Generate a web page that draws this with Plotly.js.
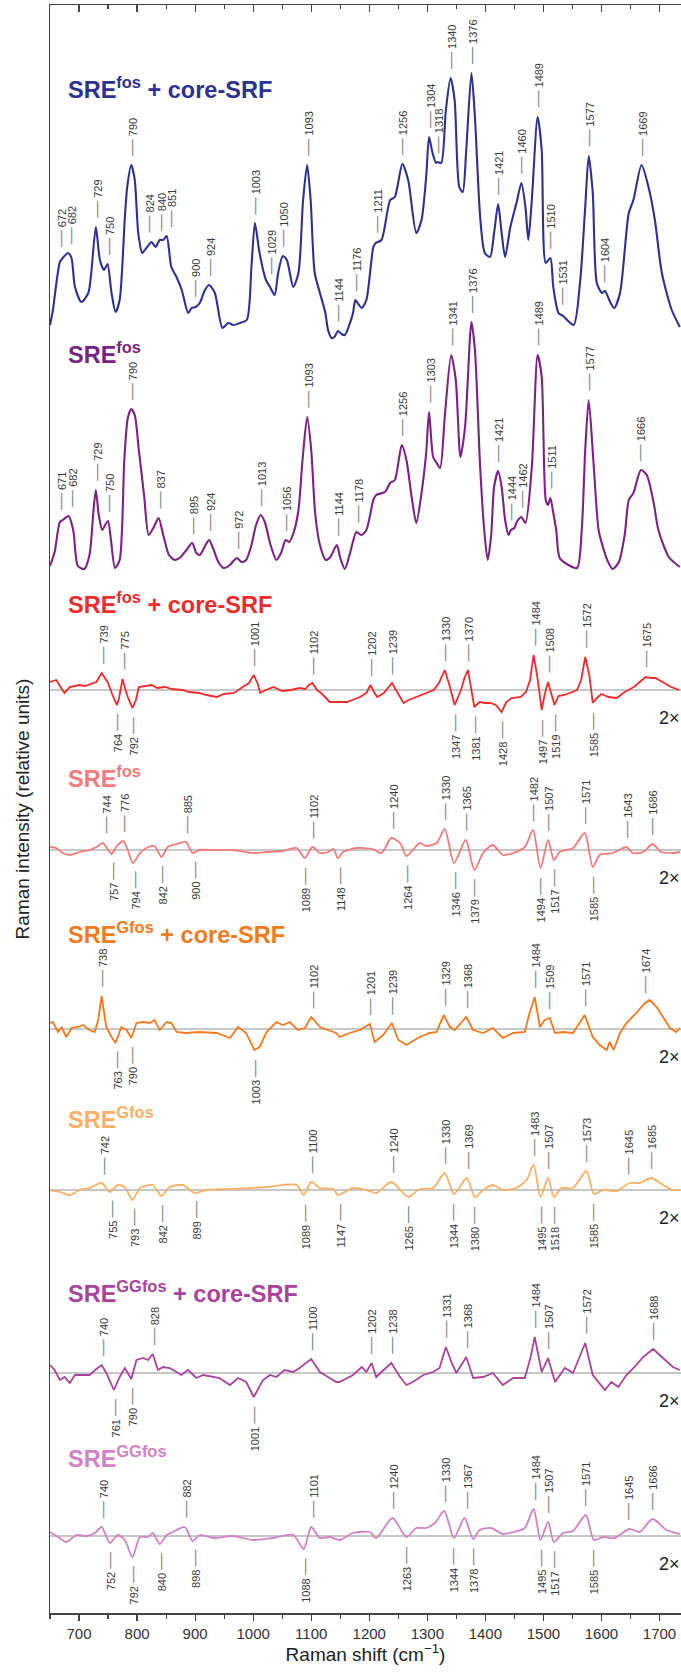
<!DOCTYPE html>
<html><head><meta charset="utf-8">
<script src="https://cdn.plot.ly/plotly-3.0.1.min.js"></script>
<style>html,body{margin:0;padding:0;background:#fff;overflow:hidden}#chart{width:681px;height:1676px}</style>
</head><body><div id="chart"></div>
<script>
// ---------- series data (Raman shift in cm-1, intensity in relative units) ----------
const navyShift = [650,655,667,672,681,687,693,704,716,721,729,736,743,749,756,763,770,779,783,790,796,802,809,816,825,832,839,845,851,859,868,877,888,894,901,908,917,924,934,947,957,966,977,989,997,1003,1011,1022,1029,1037,1043,1051,1058,1069,1078,1086,1093,1099,1106,1115,1124,1129,1135,1140,1146,1152,1158,1165,1172,1176,1181,1187,1195,1207,1211,1221,1236,1244,1257,1267,1281,1290,1298,1303,1309,1315,1318,1324,1332,1340,1347,1355,1361,1367,1376,1382,1391,1399,1408,1415,1422,1428,1434,1443,1454,1462,1469,1474,1480,1490,1497,1504,1512,1517,1526,1534,1552,1563,1572,1578,1585,1592,1601,1606,1615,1622,1632,1647,1655,1669,1681,1692,1704,1721,1735];
const navyIntensity = [15,30,78,82,87,82,53,38,47,67,113,80,70,76,47,28,40,123,153,175,160,107,87,92,98,93,100,100,104,73,63,50,27,32,33,37,50,55,47,12,17,15,17,20,73,117,87,60,53,45,67,84,80,53,67,140,175,140,67,47,28,10,2,3,9,6,5,14,27,40,36,32,40,93,97,100,140,143,176,160,107,120,163,203,187,177,178,177,230,262,240,153,148,190,267,223,123,87,83,107,136,107,83,113,138,157,133,100,140,223,190,77,82,53,27,24,15,57,133,184,147,57,47,49,38,32,47,127,140,175,153,120,67,30,13];

const purpleShift = [650,658,667,672,682,690,698,709,718,725,729,734,740,745,750,755,762,770,778,784,790,796,803,812,820,828,837,845,855,865,875,885,895,902,908,918,924,932,940,949,960,966,972,980,988,997,1005,1013,1020,1030,1040,1048,1056,1062,1070,1078,1085,1093,1100,1107,1115,1125,1133,1144,1150,1158,1166,1178,1186,1195,1207,1212,1227,1236,1244,1256,1264,1273,1281,1290,1298,1303,1310,1316,1322,1330,1341,1349,1357,1365,1376,1382,1391,1398,1404,1410,1415,1422,1428,1434,1440,1444,1450,1454,1462,1469,1480,1490,1497,1504,1508,1512,1517,1522,1528,1543,1558,1566,1572,1578,1586,1595,1603,1610,1619,1630,1640,1647,1655,1668,1678,1690,1698,1716,1735];
const purpleIntensity = [6,20,50,52,56,42,6,3,17,62,82,57,42,47,51,32,4,12,112,154,163,157,122,77,37,44,54,37,17,12,15,22,29,19,17,27,32,22,10,4,7,11,14,10,12,27,47,57,50,27,12,19,32,30,40,62,112,155,122,57,27,12,15,27,14,3,17,40,37,42,72,77,80,89,92,127,112,75,49,79,119,160,115,109,104,155,217,192,115,145,250,222,105,42,12,37,85,101,85,52,37,42,44,50,55,49,105,217,195,72,67,74,59,42,14,7,4,42,122,172,112,42,24,12,3,10,37,72,79,102,97,69,42,15,5];

const redShift = [650,661,667,675,684,693,701,710,720,730,739,745,750,757,762,765,769,775,780,784,792,798,803,812,825,835,848,860,878,890,907,920,937,950,967,982,993,1001,1008,1012,1022,1035,1050,1065,1080,1090,1096,1102,1110,1117,1125,1132,1145,1162,1175,1184,1195,1202,1208,1214,1225,1232,1239,1246,1259,1268,1281,1295,1311,1320,1330,1338,1347,1358,1364,1370,1376,1381,1390,1400,1409,1418,1428,1436,1445,1461,1470,1477,1483,1489,1497,1502,1508,1514,1519,1526,1536,1550,1558,1565,1572,1579,1585,1592,1600,1612,1626,1640,1656,1666,1676,1686,1693,1708,1720,1734];
const redIntensity = [8,10,4,-3,3,4,5,4,6,8,17,12,7,-4,-10,-15,-8,11,0,-7,-18,-10,3,4,5,2,3,1,0,-2,-3,-5,-7,-4,-3,3,7,15,6,-3,0,3,-1,0,2,1,5,7,0,-3,-8,-12,-12,-12,-9,-7,-3,5,-2,-7,-3,2,7,0,-13,-10,-7,-4,0,7,20,5,-15,0,12,20,0,-17,-12,-13,-13,-15,-22,-12,-8,-7,-2,10,35,15,-20,-5,8,-5,-15,-6,-5,-2,0,10,33,15,-13,-8,-4,-7,-8,-2,3,8,13,12,12,7,3,0];

const salmonShift = [650,661,672,684,701,718,730,741,756,764,776,784,793,805,816,830,842,853,868,884,896,907,937,965,999,1023,1051,1075,1089,1102,1115,1129,1138,1146,1155,1178,1206,1221,1238,1253,1264,1275,1287,1298,1316,1330,1346,1366,1381,1396,1413,1430,1448,1468,1482,1495,1508,1518,1528,1551,1571,1585,1597,1620,1643,1654,1672,1688,1703,1723,1735];
const salmonIntensity = [3,2,-3,-5,-2,0,3,7,-4,3,9,0,-13,-3,2,4,-7,3,6,8,-3,0,0,0,-3,-2,-1,2,-8,3,-3,-2,1,-8,-2,2,1,-3,12,7,-6,0,7,4,7,21,-13,10,-20,-3,5,-5,-3,3,20,-18,10,-10,-2,2,17,-17,-5,-3,3,-3,-2,6,-2,-3,-2];

const orangeShift = [650,655,664,670,678,687,698,707,718,727,733,739,745,747,756,763,773,782,790,799,810,822,830,839,851,859,868,884,907,937,960,974,988,1002,1011,1023,1040,1051,1063,1077,1089,1100,1115,1129,1143,1149,1166,1184,1201,1209,1224,1239,1250,1264,1287,1304,1316,1328,1339,1347,1367,1379,1396,1413,1430,1448,1468,1476,1485,1494,1502,1511,1520,1534,1551,1571,1585,1597,1609,1614,1621,1632,1643,1660,1675,1683,1695,1706,1718,1729,1735];
const orangeIntensity = [6,7,-3,2,-8,1,2,4,-1,-3,9,33,9,2,-8,-14,2,-1,-9,6,7,6,9,-1,7,6,-3,-4,-3,-4,-9,2,-4,-21,-18,-3,7,4,7,-1,1,12,2,-1,-4,-8,-4,-1,5,-13,-6,6,-11,-16,-8,-4,-3,14,2,-1,12,-1,-4,1,-9,-4,-3,16,32,2,9,11,-4,-3,-4,14,-8,-16,-21,-13,-21,-4,6,16,26,29,22,12,1,-3,1];

const lightOrangeShift = [650,667,684,701,718,739,753,767,779,792,805,827,842,856,879,899,919,965,1023,1075,1087,1100,1115,1138,1146,1172,1195,1212,1238,1267,1287,1310,1330,1346,1368,1382,1396,1413,1430,1453,1471,1483,1495,1508,1518,1531,1551,1574,1587,1603,1626,1649,1666,1686,1706,1723,1735];
const lightOrangeIntensity = [0,-2,-5,0,2,7,-2,5,3,-10,2,5,-6,3,5,-3,0,1,3,5,-5,8,2,1,-5,2,0,-3,8,-7,1,2,17,-4,12,-7,0,5,0,2,10,25,-7,12,-7,2,2,19,-4,0,-1,7,7,12,5,0,0];

const magentaShift = [650,658,667,675,684,693,707,718,730,739,747,760,770,779,790,799,810,819,827,836,845,856,868,876,888,902,914,931,942,960,974,988,1001,1017,1029,1040,1054,1069,1080,1100,1115,1129,1143,1149,1172,1187,1195,1204,1212,1221,1238,1253,1264,1275,1293,1310,1321,1332,1342,1350,1367,1379,1396,1413,1430,1448,1468,1478,1485,1497,1508,1520,1537,1551,1572,1585,1606,1617,1629,1643,1657,1672,1689,1706,1723,1735];
const magentaIntensity = [8,3,-7,-4,-10,-2,-2,-2,4,8,0,-17,-4,5,-6,13,15,13,19,3,6,5,1,-2,3,-5,-2,-4,-5,-12,-5,-9,-24,-7,-2,-4,3,1,5,14,1,-4,-9,-9,-2,6,1,10,-4,1,10,-4,-12,-9,-2,1,5,26,10,0,16,-5,-4,0,-12,-5,-5,16,36,1,15,-9,5,0,30,-2,-17,-9,-14,-2,6,16,24,15,6,3];

const pinkShift = [650,664,678,696,713,727,739,753,767,779,792,805,819,827,839,851,862,882,896,908,931,965,1000,1034,1069,1087,1100,1115,1132,1149,1172,1201,1212,1240,1264,1281,1298,1313,1329,1346,1364,1379,1390,1410,1430,1448,1468,1483,1495,1508,1518,1534,1551,1573,1587,1603,1623,1648,1666,1688,1712,1735];
const pinkIntensity = [4,-1,-6,1,0,3,9,-7,1,-4,-21,-1,-1,3,-8,1,4,9,-5,1,-2,0,-4,-2,1,-13,9,-2,-1,-4,3,4,-2,18,-1,8,8,13,25,-2,18,-3,6,8,2,4,8,27,-4,14,-6,3,5,21,-4,-1,-2,7,4,17,6,2];

// ---------- peak labels (cm-1) ----------
const navyPeaksUp = [672,682,729,750,790,824,840,851,900,924,1003,1029,1050,1093,1144,1176,1211,1256,1304,1318,1340,1376,1421,1460,1489,1510,1531,1577,1604,1669];
const purplePeaksUp = [671,682,729,750,790,837,895,924,972,1013,1056,1093,1144,1178,1256,1303,1341,1376,1421,1444,1462,1489,1511,1577,1666];
const redPeaksUp = [739,775,1001,1102,1202,1239,1330,1370,1484,1508,1572,1675];
const redPeaksDown = [764,792,1347,1381,1428,1497,1519,1585];
const salmonPeaksUp = [744,776,885,1102,1240,1330,1365,1482,1507,1571,1643,1686];
const salmonPeaksDown = [757,794,842,900,1089,1148,1264,1346,1379,1494,1517,1585];
const orangePeaksUp = [738,1102,1201,1239,1329,1368,1484,1509,1571,1674];
const orangePeaksDown = [763,790,1003];
const lightOrangePeaksUp = [742,1100,1240,1330,1369,1483,1507,1573,1645,1685];
const lightOrangePeaksDown = [755,793,842,899,1089,1147,1265,1344,1380,1495,1518,1585];
const magentaPeaksUp = [740,828,1100,1202,1238,1331,1368,1484,1507,1572,1688];
const magentaPeaksDown = [761,790,1001];
const pinkPeaksUp = [740,882,1101,1240,1330,1367,1484,1507,1571,1645,1686];
const pinkPeaksDown = [752,792,840,898,1088,1263,1344,1378,1495,1517,1585];

const seriesNames = ['SRE<sup>fos</sup> + core-SRF','SRE<sup>fos</sup>','SRE<sup>fos</sup> + core-SRF','SRE<sup>fos</sup>','SRE<sup>Gfos</sup> + core-SRF','SRE<sup>Gfos</sup>','SRE<sup>GGfos</sup> + core-SRF','SRE<sup>GGfos</sup>'];
const xTickValues = [700,800,900,1000,1100,1200,1300,1400,1500,1600,1700];

// ---------- layout / style (positions, not data) ----------
const offsets = [1273,1041,923,763,584,423,240,77];
const nameY = [1509,1244,994,820,664,479,305,140];
const colors = ['#2e3192','#7b2382','#ef2b2d','#f37b7b','#f47a20','#fbb068','#a9449c','#d282c4'];
const widths = [2.1,2.1,1.8,1.8,1.8,1.8,1.8,1.8];
const shapes = ['spline','spline','linear','spline','linear','spline','linear','spline'];
const isDifference = [false,false,true,true,true,true,true,true];
const labelTextX = {0:{672:667,682:685,824:818,851:857}, 1:{671:667,682:686}};
const FONT = 'Liberation Sans, Arial, sans-serif';

const series = [
  [navyShift, navyIntensity, navyPeaksUp, []],
  [purpleShift, purpleIntensity, purplePeaksUp, []],
  [redShift, redIntensity, redPeaksUp, redPeaksDown],
  [salmonShift, salmonIntensity, salmonPeaksUp, salmonPeaksDown],
  [orangeShift, orangeIntensity, orangePeaksUp, orangePeaksDown],
  [lightOrangeShift, lightOrangeIntensity, lightOrangePeaksUp, lightOrangePeaksDown],
  [magentaShift, magentaIntensity, magentaPeaksUp, magentaPeaksDown],
  [pinkShift, pinkIntensity, pinkPeaksUp, pinkPeaksDown]
];

function interp(xs, ys, x){
  if (x <= xs[0]) return ys[0];
  for (let i=1;i<xs.length;i++){ if (x <= xs[i]){ const t=(x-xs[i-1])/(xs[i]-xs[i-1]); return ys[i-1]+t*(ys[i]-ys[i-1]); } }
  return ys[ys.length-1];
}
function extremum(xs, ys, c, dir){
  let best = dir>0 ? -1e9 : 1e9;
  for (let x=c-3; x<=c+3; x+=0.5){ const v=interp(xs,ys,x); best = dir>0 ? Math.max(best,v) : Math.min(best,v); }
  return best;
}

const traces = [];
const annotations = [];
const layoutShapes = [];
const DASH = '<span style="font-size:17px;color:#8c8c8c">—</span>';

series.forEach((s, i) => {
  const [xs, ys, up, down] = s;
  traces.push({x: xs, y: ys.map(v => v + offsets[i]), type:'scatter', mode:'lines',
    line:{color: colors[i], width: widths[i], shape: shapes[i], smoothing: 0.7}, hoverinfo:'skip', showlegend:false});
  if (isDifference[i]) {
    layoutShapes.push({type:'line', xref:'paper', x0:0, x1:1, yref:'y', y0:offsets[i], y1:offsets[i], line:{color:'#b4b4b4', width:1.3}, layer:'below'});
    annotations.push({x:1698, y:offsets[i]-28, xref:'x', yref:'y', text:'2×', showarrow:false, xanchor:'left', yanchor:'middle', borderpad:0, font:{family:FONT, size:18, color:'#222'}});
  }
  annotations.push({x:680, y:nameY[i], xref:'x', yref:'y', text:'<b>'+seriesNames[i]+'</b>', showarrow:false, xanchor:'left', yanchor:'bottom', font:{family:FONT, size:23.5, color: colors[i]}, borderpad:0});
  const over = labelTextX[i] || {};
  up.forEach(p => {
    const e = extremum(xs, ys, p, 1);
    annotations.push({x: over[p] || p, y: offsets[i]+e+8, xref:'x', yref:'y', text: DASH+' '+p, showarrow:false, textangle:-90, xanchor:'center', yanchor:'bottom', borderpad:0, font:{family:FONT, size:11, color:'#3a3a3a'}});
  });
  down.forEach(p => {
    const e = extremum(xs, ys, p, -1);
    annotations.push({x: p, y: offsets[i]+e-8, xref:'x', yref:'y', text: p+' '+DASH, showarrow:false, textangle:-90, xanchor:'center', yanchor:'top', borderpad:0, font:{family:FONT, size:11, color:'#3a3a3a'}});
  });
});

// invisible trace to activate the top axis
traces.push({x:[700], y:[0], xaxis:'x2', yaxis:'y', mode:'markers', marker:{opacity:0}, hoverinfo:'skip', showlegend:false});

const layout = {
  width:681, height:1676,
  margin:{l:50, r:0, t:5, b:63},
  paper_bgcolor:'#fff', plot_bgcolor:'#fff',
  font:{family:FONT, color:'#222'},
  xaxis:{range:[650,1737], tickvals:xTickValues, ticks:'outside', ticklen:6, tickwidth:1.2, tickcolor:'#444',
    minor:{dtick:50, tick0:0, ticks:'outside', ticklen:4, tickwidth:1.2, tickcolor:'#444'},
    showline:true, linecolor:'#444', linewidth:1.5, showgrid:false, zeroline:false,
    tickfont:{family:FONT, size:15, color:'#333'},
    title:{text:'Raman shift (cm<sup>−1</sup>)', font:{family:FONT, size:19, color:'#222'}, standoff:7}},
  xaxis2:{overlaying:'x', matches:'x', side:'top', ticks:'inside', ticklen:7, tickwidth:1.2, tickcolor:'#444', tickvals:xTickValues,
    minor:{dtick:50, tick0:0, ticks:'inside', ticklen:4, tickwidth:1.2, tickcolor:'#444'},
    showticklabels:false, showline:true, linecolor:'#444', linewidth:1.5, showgrid:false, zeroline:false},
  yaxis:{range:[0,1608], showline:true, linecolor:'#444', linewidth:1.5, ticks:'', showticklabels:false, showgrid:false, zeroline:false,
    title:{text:'Raman intensity (relative units)', font:{family:FONT, size:19, color:'#222'}, standoff:14}},
  shapes: layoutShapes,
  annotations: annotations
};

Plotly.newPlot('chart', traces, layout, {staticPlot:true, displayModeBar:false});
</script></body></html>
